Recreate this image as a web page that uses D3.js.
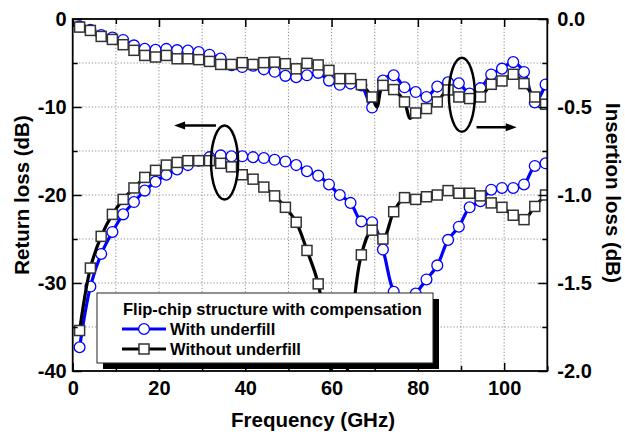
<!DOCTYPE html>
<html>
<head>
<meta charset="utf-8">
<script src="https://cdn.jsdelivr.net/npm/d3@7"></script>
<style>
  html, body { margin: 0; padding: 0; background: #fff; }
  svg { display: block; }
  text { font-family: "Liberation Sans", Arial, Helvetica, sans-serif; font-weight: bold; fill: #000; }
</style>
</head>
<body>
<svg id="chart" width="625" height="437"></svg>
<script>
// Frequency points of the plotted samples (GHz)
const freqGHz = [1.6, 4.1, 6.6, 9.2, 11.7, 14.2, 16.7, 19.2, 21.7, 24.2, 26.7, 29.2, 31.7, 34.3, 36.8,
  39.3, 41.8, 44.3, 46.8, 49.3, 51.8, 54.3, 56.9, 59.4, 61.9, 64.4, 66.9, 69.4, 71.9, 74.4,
  76.9, 79.5, 82.0, 84.5, 87.0, 89.5, 92.0, 94.5, 97.0, 99.5, 102.1, 104.6, 107.1, 109.6];

// Insertion loss (dB, right axis)
const ilWithUnderfill = [-0.042, -0.062, -0.091, -0.105, -0.119, -0.150, -0.169, -0.175, -0.170, -0.177,
  -0.179, -0.188, -0.203, -0.225, -0.263, -0.273, -0.266, -0.286, -0.300, -0.323,
  -0.331, -0.320, -0.306, -0.350, -0.374, -0.367, -0.377, -0.503, -0.350, -0.320,
  -0.388, -0.415, -0.443, -0.384, -0.360, -0.365, -0.424, -0.393, -0.315, -0.282,
  -0.245, -0.301, -0.474, -0.372];
const ilWithoutUnderfill = [-0.046, -0.065, -0.099, -0.116, -0.146, -0.178, -0.207, -0.216, -0.207, -0.226,
  -0.226, -0.231, -0.241, -0.258, -0.258, -0.248, -0.258, -0.248, -0.245, -0.254,
  -0.283, -0.252, -0.261, -0.292, -0.339, -0.339, -0.373, -0.443, -0.377, -0.401,
  -0.471, -0.534, -0.509, -0.471, -0.403, -0.443, -0.452, -0.443, -0.371, -0.352,
  -0.314, -0.367, -0.443, -0.484];
// Narrow resonance dips of the "without underfill" insertion loss between samples
const ilWithoutDipFreq = [70.5, 78.2];
const ilWithoutDipVal = [-0.500, -0.565];

// Return loss (dB, left axis)
const rlWithUnderfill = [-37.3, -30.4, -26.7, -24.2, -22.2, -20.8, -19.5, -18.5, -17.7, -17.1,
  -16.6, -16.1, -15.7, -15.5, -15.6, -15.6, -15.7, -15.8, -16.0, -16.2,
  -16.6, -17.3, -17.8, -18.8, -20.0, -20.9, -23.0, -23.1, -26.2, -31.0,
  -32.5, -31.2, -29.6, -28.0, -25.1, -23.6, -21.4, -20.7, -19.4, -19.2,
  -19.2, -18.8, -16.7, -16.4];
const rlWithoutUnderfill = [-35.4, -28.3, -24.7, -22.2, -20.5, -19.2, -18.0, -17.2, -16.6, -16.3,
  -16.1, -16.1, -16.1, -16.4, -16.8, -17.7, -18.2, -19.1, -20.1, -21.4,
  -23.1, -26.3, -30.1, -38.0, -48.0, -36.0, -26.8, -24.0, -25.0, -21.9,
  -20.3, -20.5, -20.2, -20.0, -19.5, -19.8, -19.8, -20.1, -20.9, -21.4,
  -22.3, -22.8, -21.3, -20.0];

// Axis ticks
const xMajorTicks = [0, 20, 40, 60, 80, 100];
const xMinorTicks = [10, 30, 50, 70, 90, 110];
const xGridTicks = [10, 20, 30, 40, 50, 60, 70, 80, 90, 100];
const rlMajorTicks = [0, -10, -20, -30, -40];
const rlMinorTicks = [-5, -15, -25, -35];
const rlGridTicks = [-5, -10, -15, -20, -25, -30, -35];
const ilMajorTicks = [0.0, -0.5, -1.0, -1.5, -2.0];
const ilMinorTicks = [-0.25, -0.75, -1.25, -1.75];

const legendTitle = "Flip-chip structure with compensation";
const seriesNames = ["With underfill", "Without underfill"];

const BLUE = "#0000ff";
const BLACK = "#000000";

const svg = d3.select("#chart");
const plot = { left: 72.7, right: 547.3, top: 19, bottom: 371 };

const x = d3.scaleLinear().domain([0, 110]).range([plot.left, plot.right]);
const yRL = d3.scaleLinear().domain([-40, 0]).range([plot.bottom, plot.top]);
const yIL = d3.scaleLinear().domain([-2, 0]).range([plot.bottom, plot.top]);

svg.append("defs").append("clipPath").attr("id", "plotClip")
  .append("rect")
  .attr("x", plot.left).attr("y", plot.top)
  .attr("width", plot.right - plot.left).attr("height", plot.bottom - plot.top);

// Dotted grid
const grid = svg.append("g").attr("stroke", "#8c8c8c").attr("stroke-width", 1)
  .attr("stroke-dasharray", "1.2,2");
grid.selectAll("line.v").data(xGridTicks).join("line")
  .attr("x1", d => x(d)).attr("x2", d => x(d))
  .attr("y1", plot.top).attr("y2", plot.bottom);
grid.selectAll("line.h").data(rlGridTicks).join("line")
  .attr("x1", plot.left).attr("x2", plot.right)
  .attr("y1", d => yRL(d)).attr("y2", d => yRL(d));

// Build a series as point objects
function pts(fs, vs) { return fs.map((f, i) => ({ f, v: vs[i] })); }

const dataG = svg.append("g").attr("clip-path", "url(#plotClip)");

function drawSeries(points, linePoints, yScale, color, marker) {
  const line = d3.line().x(d => x(d.f)).y(d => yScale(d.v)).curve(d3.curveCatmullRom.alpha(0.5));
  dataG.append("path").datum(linePoints)
    .attr("d", line).attr("fill", "none")
    .attr("stroke", color).attr("stroke-width", 3.2).attr("stroke-linejoin", "round");
  const g = dataG.append("g");
  if (marker === "circle") {
    g.selectAll("circle").data(points).join("circle")
      .attr("cx", d => x(d.f)).attr("cy", d => yScale(d.v)).attr("r", 5.4)
      .attr("fill", "#fff").attr("stroke", BLUE).attr("stroke-width", 1.3);
  } else {
    const s = 10;
    g.selectAll("rect").data(points).join("rect")
      .attr("x", d => x(d.f) - s / 2).attr("y", d => yScale(d.v) - s / 2)
      .attr("width", s).attr("height", s)
      .attr("fill", "#fff").attr("stroke", "#333").attr("stroke-width", 1.5);
  }
}

const ilW = pts(freqGHz, ilWithUnderfill);
const ilWo = pts(freqGHz, ilWithoutUnderfill);
const ilWoLine = ilWo.concat(pts(ilWithoutDipFreq, ilWithoutDipVal)).sort((a, b) => a.f - b.f);
const rlW = pts(freqGHz, rlWithUnderfill);
const rlWo = pts(freqGHz, rlWithoutUnderfill);

drawSeries(ilW, ilW, yIL, BLUE, "circle");
drawSeries(rlW, rlW, yRL, BLUE, "circle");
drawSeries(ilWo, ilWoLine, yIL, BLACK, "square");
drawSeries(rlWo, rlWo, yRL, BLACK, "square");

// Axes with inward ticks
const axisW = 1.8;
function styleAxis(g) {
  g.select(".domain").remove();
  g.selectAll(".tick line").attr("stroke", "#000").attr("stroke-width", 1.5);
  g.selectAll("text").style("font-size", "20px").attr("fill", "#000");
}
svg.append("g").attr("transform", `translate(0,${plot.bottom})`)
  .call(d3.axisBottom(x).tickValues(xMajorTicks).tickSizeInner(-8).tickSizeOuter(0).tickPadding(10)
    .tickFormat(d3.format("d")))
  .call(styleAxis);
svg.append("g").attr("transform", `translate(0,${plot.bottom})`)
  .call(d3.axisBottom(x).tickValues(xMinorTicks).tickSizeInner(-5).tickSizeOuter(0).tickFormat(""))
  .call(styleAxis);
svg.append("g").attr("transform", `translate(0,${plot.top})`)
  .call(d3.axisTop(x).tickValues(xMajorTicks).tickSizeInner(-8).tickSizeOuter(0).tickFormat(""))
  .call(styleAxis);
svg.append("g").attr("transform", `translate(0,${plot.top})`)
  .call(d3.axisTop(x).tickValues(xMinorTicks).tickSizeInner(-5).tickSizeOuter(0).tickFormat(""))
  .call(styleAxis);
svg.append("g").attr("transform", `translate(${plot.left},0)`)
  .call(d3.axisLeft(yRL).tickValues(rlMajorTicks).tickSizeInner(-9).tickSizeOuter(0).tickPadding(6)
    .tickFormat(d => d3.format("d")(d).replace("−", "-")))
  .call(styleAxis);
svg.append("g").attr("transform", `translate(${plot.left},0)`)
  .call(d3.axisLeft(yRL).tickValues(rlMinorTicks).tickSizeInner(-5).tickSizeOuter(0).tickFormat(""))
  .call(styleAxis);
svg.append("g").attr("transform", `translate(${plot.right},0)`)
  .call(d3.axisRight(yIL).tickValues(ilMajorTicks).tickSizeInner(-9).tickSizeOuter(0).tickPadding(10)
    .tickFormat(d => d3.format(".1f")(d).replace("−", "-")))
  .call(styleAxis);
svg.append("g").attr("transform", `translate(${plot.right},0)`)
  .call(d3.axisRight(yIL).tickValues(ilMinorTicks).tickSizeInner(-5).tickSizeOuter(0).tickFormat(""))
  .call(styleAxis);

// Frame
svg.append("rect")
  .attr("x", plot.left).attr("y", plot.top)
  .attr("width", plot.right - plot.left).attr("height", plot.bottom - plot.top)
  .attr("fill", "none").attr("stroke", "#000").attr("stroke-width", axisW);

// Axis titles
svg.append("text").attr("x", 313).attr("y", 427).attr("text-anchor", "middle")
  .style("font-size", "20.5px").text("Frequency (GHz)");
svg.append("text").attr("transform", `translate(29,${(plot.top + plot.bottom) / 2}) rotate(-90)`)
  .attr("text-anchor", "middle").style("font-size", "20.5px").text("Return loss (dB)");
svg.append("text").attr("transform", `translate(605.5,${(plot.top + plot.bottom) / 2 - 2}) rotate(90)`)
  .attr("text-anchor", "middle").style("font-size", "20.5px").text("Insertion loss (dB)");

// Ellipses grouping each pair of curves, with arrows pointing to their axes
const ann = svg.append("g").attr("fill", "none").attr("stroke", "#000").attr("stroke-width", 2.5);
ann.append("ellipse").attr("cx", x(35.2)).attr("cy", yRL(-16.3)).attr("rx", 13.5).attr("ry", 37);
ann.append("ellipse").attr("cx", x(90.2)).attr("cy", yIL(-0.43)).attr("rx", 13).attr("ry", 37);

function arrow(x1, x2, y) {
  const dir = Math.sign(x2 - x1);
  ann.append("line").attr("x1", x1).attr("x2", x2 - dir * 8).attr("y1", y).attr("y2", y);
  svg.append("path")
    .attr("d", `M${x2},${y} L${x2 - dir * 11},${y - 4} L${x2 - dir * 11},${y + 4} Z`)
    .attr("fill", "#000");
}
arrow(x(33.2), x(23.5), yRL(-12.1));
arrow(x(93.6), x(102.9), yIL(-0.615));

// Legend with drop shadow
const lg = { x: 97, y: 293, w: 336, h: 70 };
svg.append("rect").attr("x", lg.x + 6).attr("y", lg.y + 6).attr("width", lg.w).attr("height", lg.h)
  .attr("fill", "#000");
svg.append("rect").attr("x", lg.x).attr("y", lg.y).attr("width", lg.w).attr("height", lg.h)
  .attr("fill", "#fff").attr("stroke", "#222").attr("stroke-width", 1);
svg.append("text").attr("x", 123).attr("y", 315).style("font-size", "16.5px").text(legendTitle);

const legendRows = [
  { name: seriesNames[0], color: BLUE, marker: "circle", y: 329 },
  { name: seriesNames[1], color: BLACK, marker: "square", y: 349 }
];
legendRows.forEach(r => {
  svg.append("line").attr("x1", 122).attr("x2", 166).attr("y1", r.y).attr("y2", r.y)
    .attr("stroke", r.color).attr("stroke-width", 3.2);
  if (r.marker === "circle") {
    svg.append("circle").attr("cx", 144).attr("cy", r.y).attr("r", 5.4)
      .attr("fill", "#fff").attr("stroke", BLUE).attr("stroke-width", 1.3);
  } else {
    svg.append("rect").attr("x", 139).attr("y", r.y - 5).attr("width", 10).attr("height", 10)
      .attr("fill", "#fff").attr("stroke", "#333").attr("stroke-width", 1.5);
  }
  svg.append("text").attr("x", 170).attr("y", r.y + 6).style("font-size", "16.5px").text(r.name);
});
</script>
</body>
</html>
